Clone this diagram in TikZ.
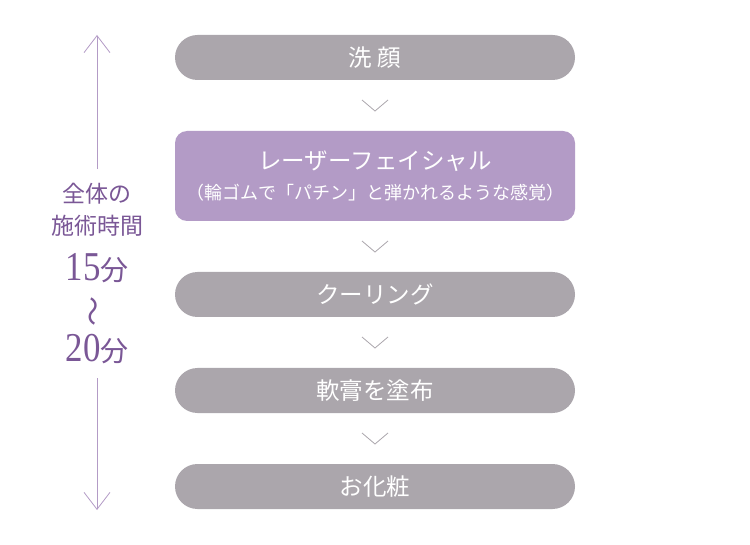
\documentclass[tikz,border=0pt]{standalone}
\usepackage{fontspec}
\setmainfont{Noto Sans CJK JP}
\newfontfamily\numfont[FakeStretch=0.85]{Liberation Serif}
\usepackage{xcolor}
\usetikzlibrary{positioning, arrows.meta}
\definecolor{stepgray}{HTML}{ABA6AC}
\definecolor{stepviolet}{HTML}{B39BC6}
\definecolor{timeline}{HTML}{B39BC6}
\definecolor{timeviolet}{HTML}{7A5796}

\begin{document}
\begin{tikzpicture}[
    x=1pt, y=-1pt,
    node distance=51pt,
    stepbox/.style={rectangle, fill=stepgray, text=white, rounded corners=22.5pt,
                    minimum width=400pt, minimum height=45pt, inner sep=0pt, outer sep=0pt,
                    font=\fontsize{23.5}{26}\selectfont},
    mainbox/.style={stepbox, fill=stepviolet, rounded corners=12pt, minimum height=90pt,
                    align=center},
    chevron/.style={stepgray, line width=0.8pt},
    timearrow/.style={-{Straight Barb[length=17pt, width=26pt]}, timeline, line width=0.8pt},
    timetext/.style={text=timeviolet, inner sep=0pt, font=\fontsize{23}{24}\selectfont}
  ]
    \useasboundingbox (0,0) rectangle (750,545);

    % steps
    \node[stepbox] (wash) at (375,57.5) {洗 顔};
    \node[mainbox, below=of wash] (laser) {レーザーフェイシャル\\[4pt]{\fontsize{18}{20}\selectfont （輪ゴムで「パチン」と弾かれるような感覚）}};
    \node[stepbox, below=of laser] (cool) {クーリング};
    \node[stepbox, below=of cool] (cream) {軟膏を塗布};
    \node[stepbox, below=of cream] (makeup) {お化粧};

    \foreach \a/\b in {wash/laser, laser/cool, cool/cream, cream/makeup} {
      \path (\a.south) -- (\b.north) coordinate[midway] (mid);
      \draw[chevron] ([xshift=-13pt, yshift=5.5pt]mid) -- ([yshift=-5.5pt]mid) -- ([xshift=13pt, yshift=5.5pt]mid);
    }

    % total time
    \node[timetext] (whole) at (97,194) {全体の};
    \node[timetext] (proc) at (97,226) {施術時間};
    \node[timetext] (from) at (97,268) {{\numfont\fontsize{41}{41}\selectfont 15}{\fontsize{28}{28}\selectfont 分}};
    \node[timetext] (wave) at (97,312) {\rotatebox{90}{\fontsize{30}{30}\selectfont 〜}};
    \node[timetext] (to) at (97,349) {{\numfont\fontsize{41}{41}\selectfont 20}{\fontsize{28}{28}\selectfont 分}};

    \coordinate (top) at (97,35);
    \coordinate (bottom) at (97,510);
    \draw[timearrow] ([yshift=14pt]whole.north) -- (top);
    \draw[timearrow] ([yshift=-14pt]to.south) -- (bottom);
  \end{tikzpicture}
\end{document}
